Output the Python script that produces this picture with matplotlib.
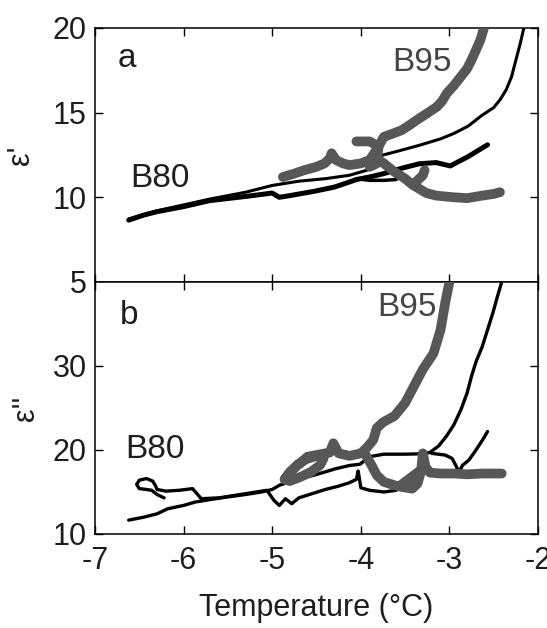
import matplotlib
matplotlib.use('Agg')
import matplotlib.pyplot as plt

plt.rcParams['font.family'] = ['Liberation Sans', 'DejaVu Sans']

# ---- panel a : real permittivity ----
b80_a1_t = [-6.62, -6.3, -6.0, -5.7, -5.3, -5.0, -4.7, -4.4, -4.13, -3.93, -3.82, -3.6, -3.34,
            -3.1, -2.95, -2.79, -2.63, -2.5, -2.43, -2.36, -2.3, -2.26, -2.2, -2.16]
b80_a1_e = [8.72, 9.2, 9.55, 9.9, 10.3, 10.7, 10.95, 11.1, 11.3, 11.6, 12.4, 12.7, 13.07,
            13.45, 13.77, 14.2, 14.85, 15.3, 15.75, 16.34, 17.1, 17.9, 19.1, 20.0]
b80_a2_t = [-6.62, -6.45, -6.3, -6.0, -5.71, -5.3, -5.0, -4.92, -4.8, -4.53, -4.3, -4.13, -4.05,
            -3.9, -3.74, -3.55, -3.34, -3.15, -2.99, -2.9, -2.79, -2.68, -2.57]
b80_a2_e = [8.65, 8.95, 9.15, 9.45, 9.8, 10.05, 10.25, 10.0, 10.1, 10.35, 10.6, 10.9, 11.05,
            11.2, 11.4, 11.7, 11.98, 12.05, 11.85, 12.1, 12.4, 12.75, 13.1]
b80_a3_t = [-4.05, -3.9, -3.74, -3.6]
b80_a3_e = [11.1, 11.0, 11.0, 11.05]

b95_a1_t = [-4.88, -4.75, -4.64, -4.5, -4.41, -4.35, -4.33, -4.28, -4.2, -4.13, -4.0, -3.9, -3.85,
            -3.8, -3.74, -3.62, -3.54, -3.44, -3.34, -3.24, -3.14, -3.08, -3.03, -2.95, -2.87,
            -2.8, -2.75, -2.7, -2.65, -2.61]
b95_a1_e = [11.2, 11.4, 11.6, 11.8, 12.0, 12.3, 12.6, 12.2, 12.0, 11.9, 12.0, 12.2, 12.6,
            13.0, 13.57, 13.8, 13.96, 14.3, 14.66, 15.0, 15.35, 15.7, 16.14, 16.6, 17.13,
            17.6, 18.12, 18.7, 19.3, 20.0]
b95_a2_t = [-4.05, -3.9, -3.8, -3.82, -3.9]
b95_a2_e = [13.3, 13.3, 13.0, 12.0, 11.8]
b95_a3_t = [-3.85, -3.74, -3.62, -3.5, -3.42, -3.34, -3.26, -3.15, -2.95, -2.8, -2.63, -2.5, -2.43]
b95_a3_e = [12.4, 12.0, 11.5, 11.1, 10.75, 10.5, 10.25, 10.1, 10.0, 9.95, 10.1, 10.2, 10.3]
b95_a4_t = [-3.4, -3.3, -3.28]
b95_a4_e = [10.8, 11.3, 11.6]

# ---- panel b : imaginary permittivity ----
b80_b1_t = [-6.62, -6.45, -6.3, -6.18, -6.0, -5.87, -5.7, -5.51, -5.3, -5.12, -5.0, -4.92, -4.75,
            -4.53, -4.4, -4.29, -4.13, -4.01, -3.9, -3.74, -3.5, -3.3, -3.22, -3.12, -3.03,
            -2.95, -2.87, -2.8, -2.75, -2.7, -2.63, -2.57, -2.51, -2.46, -2.41]
b80_b1_e = [11.65, 12.0, 12.4, 13.0, 13.4, 13.8, 14.1, 14.4, 14.7, 15.0, 15.3, 15.8, 16.4,
            17.0, 17.4, 17.75, 18.15, 18.3, 19.2, 19.5, 19.5, 19.55, 19.7, 20.5, 21.7,
            23.0, 24.8, 26.8, 28.8, 30.5, 32.3, 34.3, 36.3, 38.2, 40.0]
b80_b2_t = [-6.22, -6.3, -6.36, -6.42, -6.5, -6.53, -6.5, -6.42, -6.35, -6.32, -6.3, -6.2,
            -6.05, -5.9, -5.85, -5.8, -5.6, -5.3, -5.06, -4.98, -4.92, -4.85, -4.78, -4.7,
            -4.55, -4.4, -4.25, -4.13, -4.05, -4.03, -4.0, -3.9, -3.74, -3.6]
b80_b2_e = [14.3, 14.7, 15.2, 15.3, 15.4, 15.9, 16.4, 16.6, 16.3, 15.8, 15.3, 15.1,
            15.2, 15.4, 14.8, 14.2, 14.3, 14.8, 15.2, 14.0, 13.4, 14.2, 13.6, 14.3,
            14.8, 15.3, 15.7, 16.1, 16.5, 17.5, 15.5, 15.2, 15.0, 15.2]
b80_b3_t = [-3.2, -3.05, -2.97, -2.92, -2.9, -2.85, -2.78, -2.7, -2.62, -2.57]
b80_b3_e = [19.6, 19.4, 19.0, 18.0, 17.3, 18.2, 18.8, 20.0, 21.3, 22.2]

b95_b1_t = [-4.86, -4.8, -4.72, -4.62, -4.5, -4.42, -4.46, -4.56, -4.68, -4.8, -4.86, -4.8,
            -4.6, -4.45, -4.35, -4.31, -4.25, -4.13, -4.0, -3.93, -3.86, -3.82, -3.75, -3.62,
            -3.5, -3.42, -3.3, -3.18, -3.1, -3.05, -3.0]
b95_b1_e = [16.5, 17.3, 18.2, 18.9, 19.3, 19.0, 18.2, 17.4, 16.8, 16.3, 16.5, 17.4,
            19.2, 19.5, 19.7, 20.8, 19.6, 19.3, 19.6, 20.3, 21.2, 22.6, 23.3, 24.05,
            25.6, 27.2, 29.6, 31.5, 34.3, 37.4, 40.0]
b95_b2_t = [-3.95, -3.88, -3.82, -3.74, -3.62, -3.54, -3.42, -3.36, -3.32, -3.30, -3.27, -3.22,
            -3.1, -2.95, -2.8, -2.63, -2.5, -2.41]
b95_b2_e = [19.5, 18.2, 17.0, 16.2, 15.8, 15.6, 15.4, 16.0, 17.5, 19.6, 18.0, 17.3,
            17.2, 17.2, 17.1, 17.2, 17.2, 17.2]
b95_b3_t = [-3.55, -3.45, -3.35]
b95_b3_e = [15.8, 16.6, 17.4]

xticks = [-7, -6, -5, -4, -3, -2]
yticks_a = [5, 10, 15, 20]
yticks_b = [10, 20, 30]

GRAY = '#575757'
TXT = '#1e1e1e'

fig = plt.figure(figsize=(5.47, 6.28), dpi=100)
ax1 = fig.add_axes([0.1737, 0.5510, 0.8099, 0.4045])
ax2 = fig.add_axes([0.1737, 0.1497, 0.8099, 0.4013])

blk = dict(color='black', solid_capstyle='round', solid_joinstyle='round', zorder=2)
gry = dict(color=GRAY, lw=7, solid_capstyle='round', solid_joinstyle='round', zorder=3)

ax1.plot(b80_a1_t, b80_a1_e, lw=2.2, **blk)
ax1.plot(b80_a2_t, b80_a2_e, lw=3.6, **blk)
ax1.plot(b80_a3_t, b80_a3_e, lw=2.5, **blk)
ax1.plot(b95_a1_t, b95_a1_e, **gry)
ax1.plot(b95_a2_t, b95_a2_e, **gry)
ax1.plot(b95_a3_t, b95_a3_e, **gry)
ax1.plot(b95_a4_t, b95_a4_e, **gry)

ax2.plot(b80_b1_t, b80_b1_e, lw=2.4, **blk)
ax2.plot(b80_b2_t, b80_b2_e, lw=2.4, **blk)
ax2.plot(b80_b3_t, b80_b3_e, lw=2.4, **blk)
ax2.plot(b95_b1_t, b95_b1_e, **gry)
ax2.plot(b95_b2_t, b95_b2_e, **gry)
ax2.plot(b95_b3_t, b95_b3_e, **gry)

ax1.set_xlim(-7, -2)
ax1.set_ylim(5, 20)
ax2.set_xlim(-7, -2)
ax2.set_ylim(10, 40)
ax1.set_xticks(xticks)
ax2.set_xticks(xticks)
ax1.set_yticks(yticks_a)
ax2.set_yticks(yticks_b)
ax1.set_xticklabels([])
ax2.set_xticklabels([str(t) for t in xticks])

for ax in (ax1, ax2):
    ax.tick_params(direction='in', top=True, right=True, length=6, width=1,
                   labelsize=22, labelcolor=TXT, pad=6)
    ax.tick_params(axis='x', pad=9)
    for s in ax.spines.values():
        s.set_linewidth(1.1)

ax1.set_ylabel("ε'", fontsize=22, color=TXT, labelpad=12)
ax2.set_ylabel("ε''", fontsize=22, color=TXT, labelpad=8)
ax2.set_xlabel('Temperature (°C)', fontsize=22, color=TXT, labelpad=12)

ax1.text(-6.74, 17.7, 'a', fontsize=24, color=TXT)
ax1.text(-6.6, 10.6, 'B80', fontsize=24, color=TXT)
ax1.text(-3.65, 17.46, 'B95', fontsize=24, color='#444444')
ax2.text(-6.72, 34.97, 'b', fontsize=24, color=TXT)
ax2.text(-6.66, 19.0, 'B80', fontsize=24, color=TXT)
ax2.text(-3.82, 35.9, 'B95', fontsize=24, color='#444444')

fig.savefig('out.png', dpi=100)
